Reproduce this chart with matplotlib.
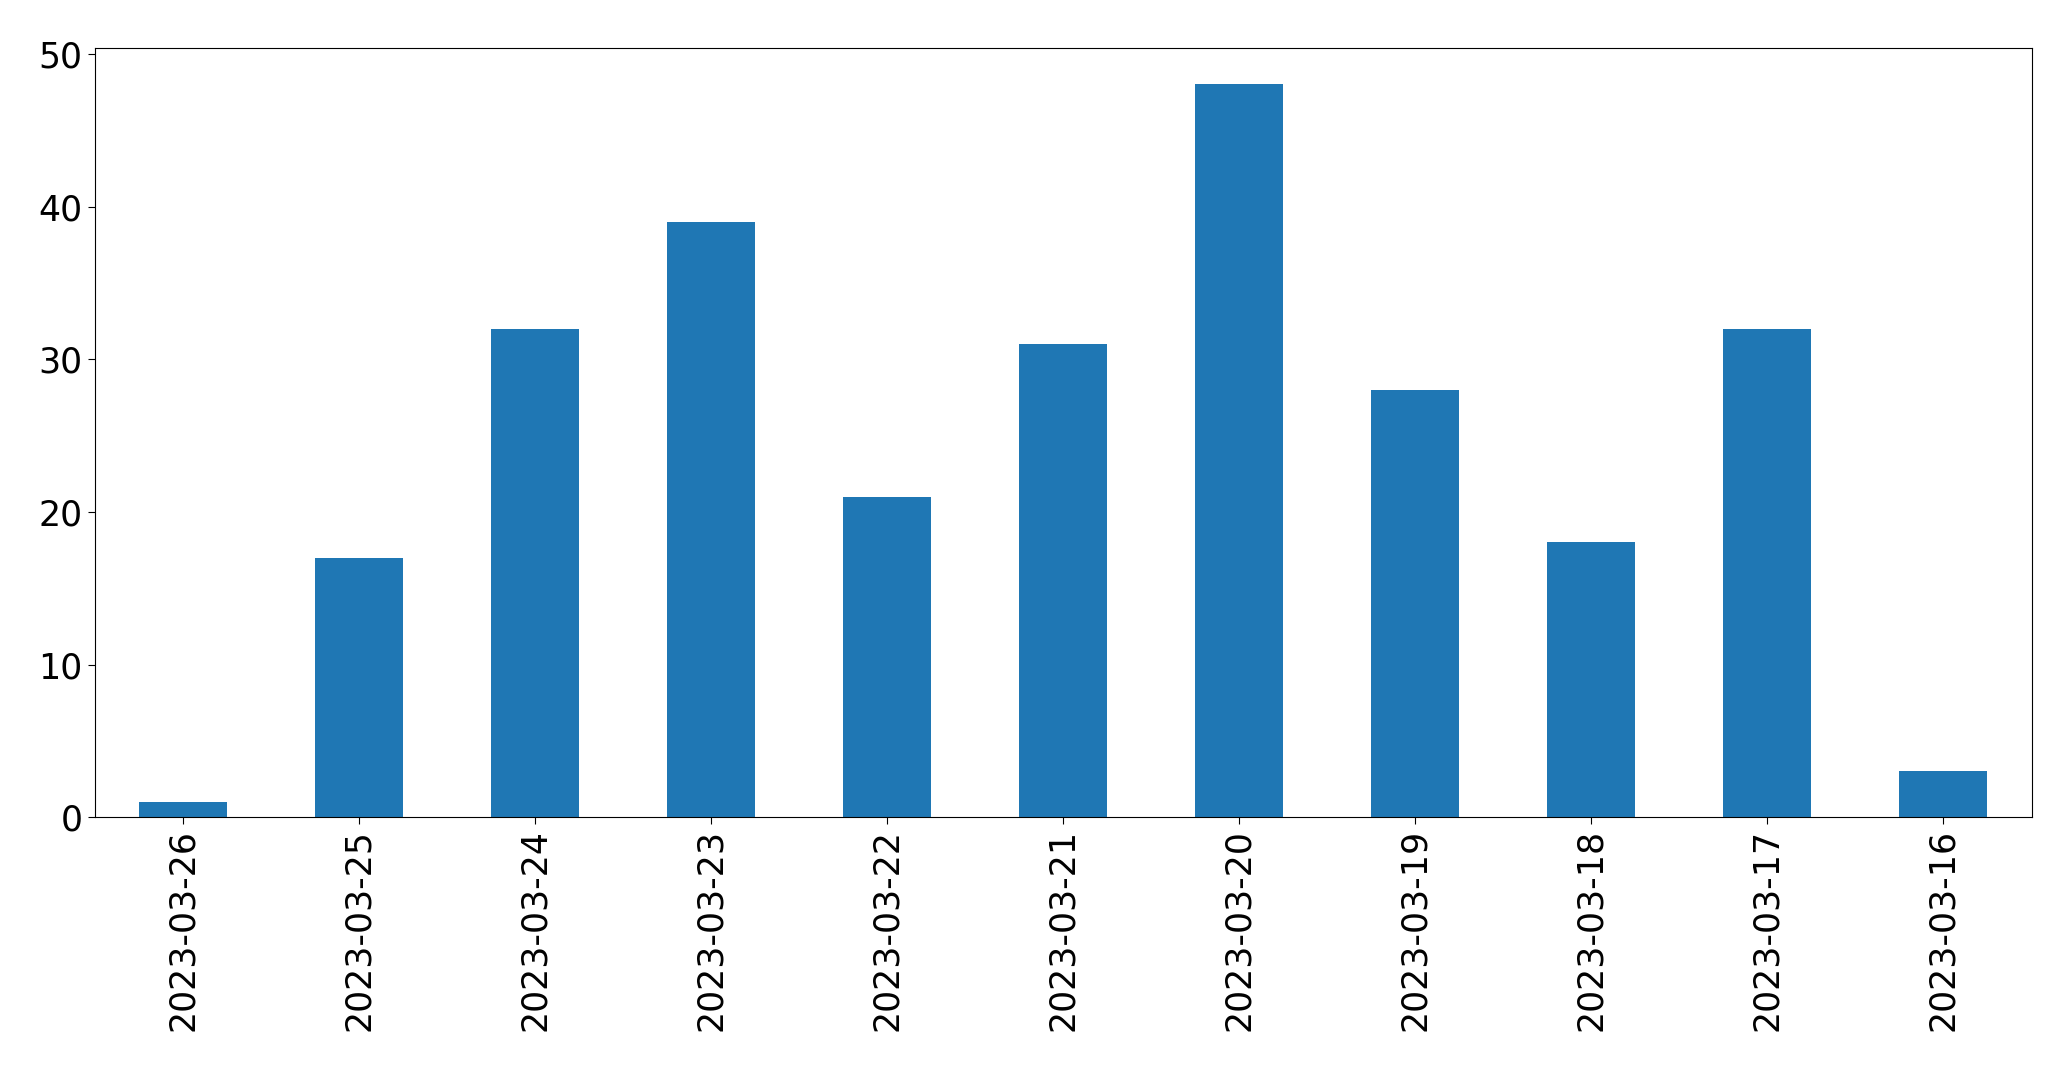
import matplotlib
matplotlib.use("Agg")
import matplotlib.pyplot as plt
import numpy as np

# dates shown on the x axis (newest first, as in the source)
dates = ['2023-03-26', '2023-03-25', '2023-03-24', '2023-03-23', '2023-03-22',
         '2023-03-21', '2023-03-20', '2023-03-19', '2023-03-18', '2023-03-17',
         '2023-03-16']
counts = [1, 17, 32, 39, 21, 31, 48, 28, 18, 32, 3]

fig, ax = plt.subplots(figsize=(20.71, 10.69), dpi=100)
fig.subplots_adjust(left=94.5/2071, right=2031.5/2071, top=1-47.7/1069, bottom=1-817.3/1069)

x = np.arange(len(dates))
ax.bar(x, counts, width=0.5, color='#1f77b4')

ax.set_xlim(-0.5, len(dates) - 0.5)
ax.set_ylim(0, max(counts) * 1.05)
ax.set_xticks(x)
ax.set_xticklabels(dates, rotation=90)
ax.set_yticks([0, 10, 20, 30, 40, 50])
ax.tick_params(axis='both', labelsize=25, length=5)

fig.savefig('out.png', dpi=100)
